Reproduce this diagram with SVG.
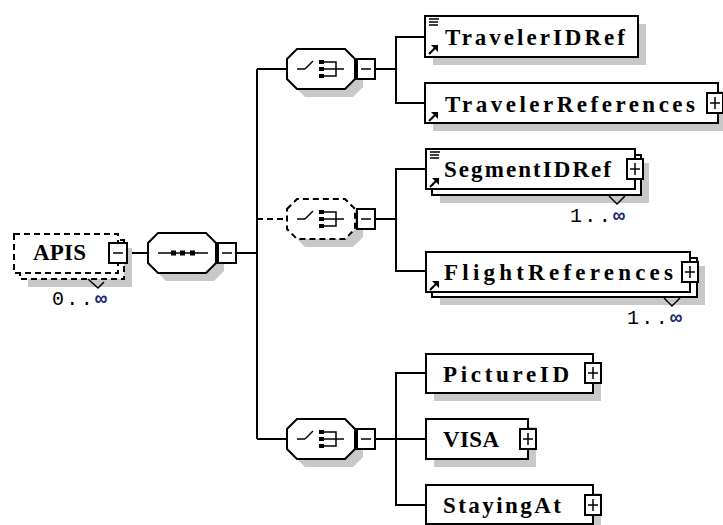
<svg xmlns="http://www.w3.org/2000/svg" width="723" height="525" viewBox="0 0 723 525">
<defs>
<style>
.ln{stroke:#000;stroke-width:2;fill:none}
.dash{stroke-dasharray:6 4}
.box{fill:#fff;stroke:#000;stroke-width:2}
.dbox{fill:#fff;stroke:#000;stroke-width:2;stroke-dasharray:6 4}
.sh{fill:#c8c8c8;stroke:none}
.ic{stroke:#000;stroke-width:1.5;fill:none}
.ia{stroke:#000;stroke-width:2.2;fill:none}
.blk{fill:#000}
.lbl{font-family:"Liberation Serif","Times New Roman",serif;font-weight:bold;font-size:23px;fill:#000}
.occ{font-family:"Liberation Mono","Courier New",monospace;font-size:20px;fill:#000}
.inf{fill:#1a2a70;font-weight:bold}
</style>
<g id="minus"><rect x="-9" y="-10" width="18" height="20" class="box"/><line x1="-5" y1="0" x2="5" y2="0" class="ic"/></g>
<g id="plus"><rect x="-8" y="-10" width="16" height="20" class="box"/><line x1="-5" y1="0" x2="5" y2="0" class="ic"/><line x1="0" y1="-6" x2="0" y2="6" class="ic"/></g>
<path id="oct" d="M0,10 L10,0 L58,0 L68,10 L68,30 L58,40 L10,40 L0,30 Z"/>
<g id="choiceIcon">
<line x1="10" y1="0" x2="18" y2="0" class="ic"/>
<line x1="18" y1="0" x2="26" y2="-8" class="ic"/>
<rect x="32" y="-9" width="5" height="4" class="blk"/>
<rect x="32" y="-2" width="5" height="4" class="blk"/>
<rect x="32" y="5" width="5" height="4" class="blk"/>
<polyline points="37,-7 49,-7 49,7 37,7" class="ic"/>
<line x1="37" y1="0" x2="57" y2="0" class="ic"/>
</g>
<g id="refIcon"><line x1="0" y1="9" x2="6" y2="3" class="ia"/><polygon points="2,0 9,0 9,7" class="blk"/></g>
<g id="simpleIcon"><line x1="0" y1="0" x2="10" y2="0" class="ic"/><line x1="0" y1="3" x2="9" y2="3" class="ic"/><line x1="0" y1="6" x2="9" y2="6" class="ic"/></g>
</defs>
<rect width="723" height="525" fill="#fff"/>

<g id="connectors">
<line x1="127" y1="253" x2="148" y2="253" class="ln"/>
<line x1="237" y1="253" x2="257" y2="253" class="ln"/>
<line x1="257" y1="69" x2="257" y2="439" class="ln"/>
<line x1="257" y1="69" x2="287" y2="69" class="ln"/>
<line x1="257" y1="219" x2="287" y2="219" class="ln dash"/>
<line x1="257" y1="439" x2="287" y2="439" class="ln"/>
<polyline points="376,69 396,69" class="ln"/>
<polyline points="425,37 396,37 396,103 425,103" class="ln"/>
<polyline points="376,219 396,219" class="ln"/>
<polyline points="426,169 396,169 396,271 426,271" class="ln"/>
<polyline points="376,439 396,439" class="ln"/>
<polyline points="426,373 396,373 396,505 426,505" class="ln"/>
<line x1="396" y1="439" x2="426" y2="439" class="ln"/>
</g>

<g id="APIS">
<rect x="28" y="248" width="104" height="39" class="sh"/>
<rect x="20" y="240" width="104" height="39" class="dbox"/>
<rect x="14" y="234" width="104" height="39" class="dbox"/>
<text x="33" y="260" class="lbl" textLength="53" lengthAdjust="spacing">APIS</text>
<use href="#minus" x="118" y="253"/>
<polyline points="88,279 98,288 104,282" class="ic"/>
<text x="52" y="305" class="occ" textLength="55" lengthAdjust="spacing">0..<tspan class="inf">∞</tspan></text>
</g>

<g id="sequence">
<use href="#oct" x="156" y="241" class="sh"/>
<use href="#oct" x="148" y="233" class="box"/>
<line x1="158" y1="253" x2="208" y2="253" class="ic"/>
<rect x="171" y="250.5" width="5" height="5" class="blk"/>
<rect x="180" y="250.5" width="5" height="5" class="blk"/>
<rect x="190" y="250.5" width="5" height="5" class="blk"/>
<use href="#minus" x="227" y="253"/>
</g>

<g id="choice1">
<use href="#oct" x="295" y="57" class="sh"/>
<use href="#oct" x="287" y="49" class="box"/>
<use href="#choiceIcon" x="287" y="69"/>
<use href="#minus" x="366" y="69"/>
</g>

<g id="choice2">
<use href="#oct" x="295" y="207" class="sh"/>
<use href="#oct" x="287" y="199" class="dbox"/>
<use href="#choiceIcon" x="287" y="219"/>
<use href="#minus" x="366" y="219"/>
</g>

<g id="choice3">
<use href="#oct" x="295" y="427" class="sh"/>
<use href="#oct" x="287" y="419" class="box"/>
<use href="#choiceIcon" x="287" y="439"/>
<use href="#minus" x="366" y="439"/>
</g>

<g id="TravelerIDRef">
<rect x="433" y="24" width="213" height="41" class="sh"/>
<rect x="425" y="16" width="213" height="41" class="box"/>
<use href="#simpleIcon" x="429" y="19"/>
<use href="#refIcon" x="429" y="45"/>
<text x="445" y="45" class="lbl" textLength="180" lengthAdjust="spacing">TravelerIDRef</text>
</g>

<g id="TravelerReferences">
<rect x="433" y="91" width="293" height="40" class="sh"/>
<rect x="425" y="83" width="293" height="40" class="box"/>
<use href="#refIcon" x="429" y="112"/>
<text x="445" y="112" class="lbl" textLength="250" lengthAdjust="spacing">TravelerReferences</text>
<use href="#plus" x="715" y="103"/>
</g>

<g id="SegmentIDRef">
<rect x="440" y="163" width="209" height="40" class="sh"/>
<rect x="432" y="155" width="209" height="40" class="box"/>
<rect x="426" y="149" width="209" height="40" class="box"/>
<use href="#simpleIcon" x="430" y="152"/>
<use href="#refIcon" x="430" y="178"/>
<text x="444" y="177" class="lbl" textLength="167" lengthAdjust="spacing">SegmentIDRef</text>
<use href="#plus" x="635" y="169"/>
<polyline points="609,196 617,204 625,196" class="ic"/>
<text x="570" y="222" class="occ" textLength="55" lengthAdjust="spacing">1..<tspan class="inf">∞</tspan></text>
</g>

<g id="FlightReferences">
<rect x="440" y="266" width="265" height="39" class="sh"/>
<rect x="432" y="258" width="265" height="39" class="box"/>
<rect x="426" y="252" width="264" height="40" class="box"/>
<use href="#refIcon" x="430" y="281"/>
<text x="444" y="280" class="lbl" textLength="229" lengthAdjust="spacing">FlightReferences</text>
<use href="#plus" x="690" y="272"/>
<polyline points="664,298 672,306 680,298" class="ic"/>
<text x="627" y="324" class="occ" textLength="55" lengthAdjust="spacing">1..<tspan class="inf">∞</tspan></text>
</g>

<g id="PictureID">
<rect x="434" y="362" width="167" height="39" class="sh"/>
<rect x="426" y="354" width="167" height="39" class="box"/>
<text x="443" y="382" class="lbl" textLength="126" lengthAdjust="spacing">PictureID</text>
<use href="#plus" x="593" y="373"/>
</g>

<g id="VISA">
<rect x="434" y="427" width="102" height="40" class="sh"/>
<rect x="426" y="419" width="102" height="40" class="box"/>
<text x="443" y="447" class="lbl" textLength="56" lengthAdjust="spacing">VISA</text>
<use href="#plus" x="528" y="439"/>
</g>

<g id="StayingAt">
<rect x="434" y="493" width="167" height="39" class="sh"/>
<rect x="426" y="485" width="167" height="39" class="box"/>
<text x="443" y="513" class="lbl" textLength="118" lengthAdjust="spacing">StayingAt</text>
<use href="#plus" x="593" y="505"/>
</g>
</svg>
